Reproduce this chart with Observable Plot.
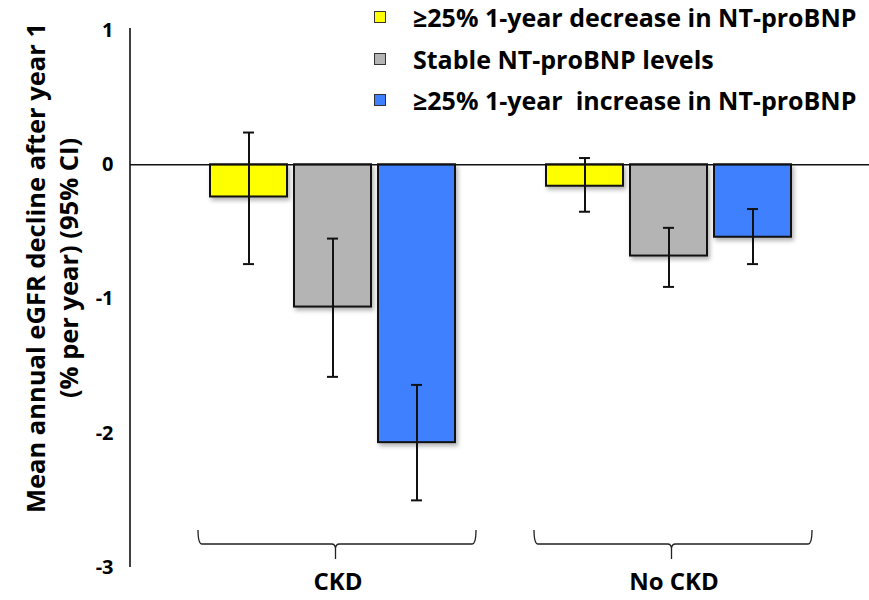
<!DOCTYPE html>
<html><head><meta charset="utf-8">
<script src="https://cdn.jsdelivr.net/npm/d3@7"></script>
<script src="https://cdn.jsdelivr.net/npm/@observablehq/plot@0.6"></script>
<style>
body{margin:0;background:#fff;}
#wrap{position:relative;width:869px;height:600px;font-family:"Open Sans",Lato,sans-serif;}
#legend{position:absolute;left:374px;top:3px;}
.row{display:flex;align-items:center;height:28px;line-height:28px;margin-bottom:13.5px;font-weight:700;font-size:25px;color:#000;white-space:pre;}
.sw{width:10px;height:10px;border:1px solid #333;margin-right:27px;box-sizing:content-box;flex:none;}
svg g[aria-label="bar"] rect{filter:drop-shadow(2px 3px 2px rgba(0,0,0,0.3));}
</style></head>
<body><div id="wrap"><div id="legend"></div></div>
<script>
const groups = ["CKD", "No CKD"];
const series = ["≥25% 1-year decrease in NT-proBNP", "Stable NT-proBNP levels", "≥25% 1-year  increase in NT-proBNP"];
const colors = ["#FFFF00", "#B4B4B4", "#3F80FF"];
const ckdMean = [-0.24, -1.06, -2.07];
const ckdLow = [-0.74, -1.58, -2.50];
const ckdHigh = [0.24, -0.55, -1.64];
const noCkdMean = [-0.16, -0.68, -0.54];
const noCkdLow = [-0.35, -0.91, -0.74];
const noCkdHigh = [0.05, -0.47, -0.33];
const yTicks = [1, 0, -1, -2, -3];
const yDomain = [-3, 1];
const yLabel = "Mean annual eGFR decline after year 1\n(% per year) (95% CI)";

const slotKey = (g, i) => g + "|" + i;
const xDomain = [...series.map((s, i) => slotKey(groups[0], i)), "gap", ...series.map((s, i) => slotKey(groups[1], i))];
const groupVals = {
  [groups[0]]: {mean: ckdMean, low: ckdLow, high: ckdHigh},
  [groups[1]]: {mean: noCkdMean, low: noCkdLow, high: noCkdHigh}
};
const table = groups.flatMap(g => series.map((s, i) => ({
  group: g, series: s, slot: slotKey(g, i),
  mean: groupVals[g].mean[i], low: groupVals[g].low[i], high: groupVals[g].high[i]
})));

// legend
const legend = d3.select("#legend");
series.forEach((s, i) => {
  const r = legend.append("div").attr("class", "row");
  r.append("div").attr("class", "sw").style("background", colors[i]);
  r.append("span").text(s);
});

function axisLine(index, scales, values, dimensions) {
  const g = d3.create("svg:g");
  const x = dimensions.marginLeft;
  g.append("line").attr("x1", x).attr("x2", x)
    .attr("y1", scales.y(yDomain[1]) - 2).attr("y2", scales.y(yDomain[0]))
    .attr("stroke", "#111").attr("stroke-width", 1.6);
  return g.node();
}

function braces(index, scales, values, dimensions) {
  const {x, y} = scales;
  const bw = x.bandwidth ? x.bandwidth() : 0;
  const g = d3.create("svg:g").attr("fill", "none").attr("stroke", "#222").attr("stroke-width", 1.3);
  const base = y(yDomain[0]);
  const top = base - 37, mid = base - 23, tip = base - 8;
  for (const grp of groups) {
    const slots = series.map((s, i) => slotKey(grp, i));
    const x0 = x(slots[0]) - 12;
    const x1 = x(slots[slots.length - 1]) + bw + 21;
    const xc = x(slots[1]) + bw / 2 + 3;
    const p = d3.path();
    p.moveTo(x0, top);
    p.quadraticCurveTo(x0, mid, x0 + 4, mid);
    p.lineTo(xc - 4, mid);
    p.quadraticCurveTo(xc, mid, xc, mid + 5);
    p.lineTo(xc, tip);
    p.moveTo(xc, mid + 5);
    p.quadraticCurveTo(xc, mid, xc + 4, mid);
    p.lineTo(x1 - 4, mid);
    p.quadraticCurveTo(x1, mid, x1, top);
    g.append("path").attr("d", p.toString());
  }
  return g.node();
}

const chart = Plot.plot({
  width: 869,
  height: 600,
  marginLeft: 130,
  marginRight: 0,
  marginTop: 30,
  marginBottom: 33,
  style: {fontFamily: "'Open Sans', Lato, sans-serif", overflow: "visible", background: "transparent"},
  x: {type: "band", domain: xDomain, insetLeft: 77, insetRight: 75, paddingInner: 0.087, paddingOuter: 0, axis: null},
  y: {domain: yDomain, axis: null},
  color: {domain: series, range: colors},
  marks: [
    Plot.axisY({ticks: yTicks, tickSize: 0, tickPadding: 17, fontSize: 20, fontWeight: "bold", fill: "#000", tickFormat: d => String(d), label: null}),
    axisLine,
    Plot.barY(table, {x: "slot", y: "mean", fill: "series", stroke: "#111", strokeWidth: 2}),
    Plot.ruleY([0], {stroke: "#111", strokeWidth: 1.3}),
    Plot.ruleX(table, {x: "slot", y1: "low", y2: "high", stroke: "#111", strokeWidth: 2}),
    Plot.tickY(table, {x: "slot", y: "low", insetLeft: 33, insetRight: 33, stroke: "#111", strokeWidth: 2}),
    Plot.tickY(table, {x: "slot", y: "high", insetLeft: 33, insetRight: 33, stroke: "#111", strokeWidth: 2}),
    braces,
    Plot.text(groups, {x: g => slotKey(g, 1), y: () => yDomain[0], dy: 15, dx: 5, text: d => d, fontSize: 24, fontWeight: "bold", fill: "#000", lineAnchor: "middle"}),
    Plot.text([yLabel], {frameAnchor: "left", textAnchor: "middle", rotate: -90, dx: -80, dy: -31, lineHeight: 1.3, fontSize: 25.5, fontWeight: "bold", fill: "#000", text: d => d, lineAnchor: "middle"})
  ]
});
document.getElementById("wrap").prepend(chart);
chart.style.position = "absolute";
chart.style.left = "0";
chart.style.top = "0";
</script>
</body></html>
